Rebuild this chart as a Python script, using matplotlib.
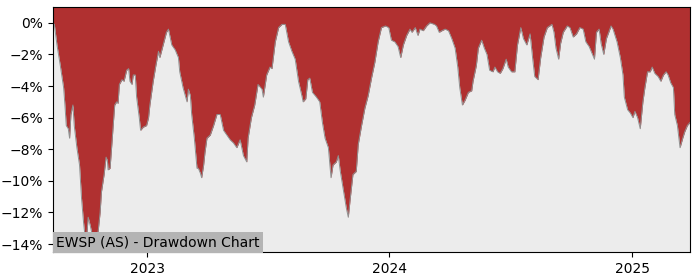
import numpy as np
import pandas as pd
import matplotlib
matplotlib.use('Agg')
import matplotlib.pyplot as plt
import matplotlib.dates as mdates
from matplotlib.ticker import PercentFormatter

start_date = '2022-08-12'

# calendar days since start_date
days = [0, 2, 6, 11, 16, 18, 20, 23, 25, 27, 30, 32, 36, 40, 43, 46, 48, 51,
        53, 56, 60, 62, 65, 68, 71, 73, 77, 80, 82, 83, 86, 89, 91, 93, 96, 98,
        100, 104, 107, 111, 114, 116, 119, 121, 124, 126, 130, 132, 136, 141,
        144, 146, 151, 155, 159, 161, 166, 171, 174, 179, 184, 189, 191, 196,
        202, 204, 207, 209, 213, 217, 219, 222, 224, 227, 229, 232, 237, 242,
        247, 252, 257, 262, 267, 272, 277, 282, 287, 292, 294, 299, 304, 309,
        315, 317, 322, 327, 330, 335, 340, 345, 350, 355, 360, 365, 370, 375,
        377, 381, 384, 387, 391, 397, 402, 406, 410, 415, 419, 422, 427, 430,
        433, 438, 442, 445, 448, 452, 457, 460, 465, 470, 475, 480, 485, 490,
        495, 501, 506, 510, 515, 520, 524, 528, 533, 538, 541, 546, 550, 553,
        558, 563, 568, 575, 578, 582, 586, 591, 596, 601, 606, 610, 613, 617,
        621, 626, 631, 633, 638, 641, 646, 650, 654, 658, 663, 666, 670, 674,
        678, 683, 686, 691, 696, 700, 705, 709, 714, 719, 723, 726, 731, 735,
        740, 745, 752, 755, 758, 762, 765, 769, 775, 779, 784, 789, 794, 799,
        803, 808, 813, 816, 819, 823, 826, 830, 834, 841, 844, 850, 855, 859,
        861, 866, 870, 874, 877, 881, 885, 889, 892, 896, 900, 903, 907, 912,
        916, 920, 924, 927, 931, 935, 937, 941, 945, 949, 952, 956, 960]

drawdown = [0.0, -0.1, -1.4, -2.7, -4.1, -5.2, -6.5, -6.7, -7.3, -5.8, -5.2,
            -6.5, -7.9, -9.0, -11.1, -12.6, -13.4, -13.4, -12.3, -12.8, -13.6,
            -14.4, -13.6, -13.2, -12.0, -10.7, -9.6, -8.5, -8.7, -9.3, -9.2,
            -7.5, -6.3, -5.2, -5.0, -5.1, -3.9, -3.6, -3.7, -3.0, -2.9, -3.7,
            -3.9, -3.3, -3.3, -4.7, -6.0, -6.8, -6.6, -6.5, -6.0, -5.2, -3.7,
            -2.7, -1.8, -2.2, -1.4, -0.6, -0.4, -1.4, -1.7, -2.2, -3.1, -4.1,
            -5.0, -4.2, -4.6, -5.8, -7.3, -9.2, -9.2, -9.5, -9.8, -9.0, -8.2,
            -7.3, -7.1, -6.5, -5.8, -5.8, -6.8, -7.1, -7.4, -7.6, -7.9, -7.4,
            -8.4, -8.8, -7.3, -6.0, -5.2, -3.9, -4.2, -4.7, -3.3, -2.8, -2.9,
            -1.2, -0.3, -0.1, -0.1, -1.2, -1.8, -2.3, -3.7, -4.6, -5.0, -4.8,
            -3.6, -3.5, -4.4, -4.7, -5.0, -6.3, -7.3, -7.9, -9.8, -9.0, -8.8,
            -8.4, -9.4, -10.7, -11.7, -12.3, -11.1, -9.6, -9.4, -7.7, -6.5,
            -5.4, -4.6, -3.5, -2.5, -1.2, -0.3, -0.2, -0.3, -1.1, -1.2, -1.5,
            -2.2, -1.4, -0.8, -0.4, -0.6, -0.3, -0.8, -0.4, -0.5, -0.2, 0.0,
            -0.1, -0.2, -0.6, -0.5, -0.4, -0.5, -1.0, -1.6, -2.8, -4.1, -5.2,
            -4.9, -4.4, -4.3, -3.7, -2.7, -1.6, -1.1, -1.6, -2.0, -3.0, -3.1,
            -2.8, -3.1, -3.2, -2.9, -2.3, -2.8, -3.1, -3.1, -1.4, -0.3, -1.0,
            -1.4, -0.7, -2.3, -3.4, -3.6, -2.2, -0.9, -0.3, -0.1, -0.6, -1.6,
            -2.3, -1.3, -0.6, -0.2, -0.3, -0.9, -0.7, -0.3, -0.4, -1.2, -1.5,
            -2.0, -2.3, -0.6, -0.4, -1.3, -2.0, -1.0, -0.2, -0.4, -1.2, -2.2,
            -3.3, -4.7, -5.5, -5.7, -6.0, -5.6, -6.0, -6.7, -5.0, -4.1, -3.1,
            -3.1, -2.8, -3.2, -3.4, -3.7, -3.3, -3.1, -3.3, -3.8, -4.1, -5.8,
            -6.5, -7.9, -7.3, -6.9, -6.5, -6.3]

title = 'EWSP (AS) - Drawdown Chart'
year_ticks = ['2023-01-01', '2024-01-01', '2025-01-01']

dates = pd.Timestamp(start_date) + pd.to_timedelta(days, unit='D')
dd = np.array(drawdown)

fig = plt.figure(figsize=(7, 2.8), dpi=100)
ax = fig.add_axes([0.0757, 0.1, 0.91, 0.875])
ax.set_facecolor('#ececec')

top = 1.0
ax.fill_between(dates, dd, top, color='#b03030', linewidth=0)
ax.plot(dates, dd, color='#909090', linewidth=0.7)

ax.set_xlim(dates[0], dates[-1])
ax.set_ylim(-14.5, top)
ax.set_yticks(np.arange(-14, 1, 2))
ax.yaxis.set_major_formatter(PercentFormatter(decimals=0))
ax.set_xticks(pd.to_datetime(year_ticks))
ax.xaxis.set_major_formatter(mdates.DateFormatter('%Y'))
ax.tick_params(labelsize=10)

ax.text(0.005, 0.012, title, transform=ax.transAxes, fontsize=10,
        ha='left', va='bottom',
        bbox=dict(facecolor='#b4b4b4', edgecolor='none', pad=2.5))

fig.savefig('out.png', dpi=100)
